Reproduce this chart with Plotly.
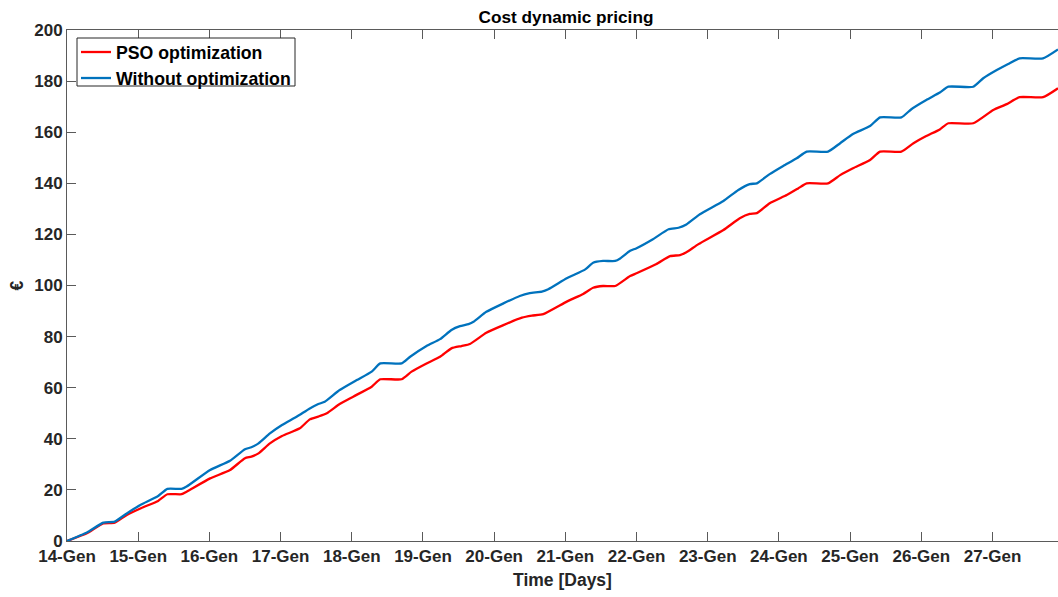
import pandas as pd
import plotly.graph_objects as go

START = pd.Timestamp("2019-01-14")

# time in days since 14-Gen 00:00, cost in euro
days_pso = [0, 0.28, 0.51, 0.67, 0.84, 1.07, 1.28, 1.41, 1.61, 1.68, 2.01, 2.29, 2.50, 2.59, 2.69,
            2.85, 3.02, 3.27, 3.41, 3.53, 3.65, 3.83, 4.02, 4.28, 4.40, 4.70, 4.84, 5.05, 5.24,
            5.40, 5.54, 5.66, 5.89, 6.13, 6.39, 6.53, 6.69, 7.02, 7.25, 7.39, 7.53, 7.70, 7.91,
            8.00, 8.28, 8.47, 8.61, 8.70, 8.87, 9.22, 9.45, 9.59, 9.69, 9.87, 10.11, 10.27, 10.39,
            10.69, 10.86, 11.04, 11.28, 11.42, 11.72, 11.89, 12.07, 12.26, 12.38, 12.73, 13.01,
            13.20, 13.38, 13.71, 13.92]
cost_pso = [0, 3.0, 6.9, 7.2, 10.2, 13.2, 15.7, 18.3, 18.3, 19.3, 24.5, 27.8, 32.4, 33.0, 34.3,
            38.2, 41.1, 44.1, 47.6, 48.7, 50.0, 53.6, 56.5, 60.4, 63.3, 63.3, 66.3, 69.5, 72.1,
            75.4, 76.3, 77.1, 81.5, 84.5, 87.4, 88.2, 88.8, 93.7, 96.7, 99.1, 99.8, 99.8, 103.7,
            104.8, 108.4, 111.5, 111.9, 113.0, 116.2, 121.7, 126.3, 128.0, 128.3, 132.2, 135.4, 138.0, 140.0,
            140.0, 143.2, 145.9, 149.1, 152.4, 152.4, 155.7, 158.5, 161.1, 163.5, 163.5, 168.7,
            171.0, 173.7, 173.7, 177.2]

days_base = [0, 0.28, 0.51, 0.67, 0.84, 1.03, 1.28, 1.41, 1.61, 1.68, 2.01, 2.29, 2.50, 2.59, 2.69,
             2.85, 3.02, 3.23, 3.41, 3.53, 3.62, 3.83, 4.07, 4.28, 4.40, 4.70, 4.82, 5.05, 5.24,
             5.40, 5.52, 5.64, 5.71, 5.89, 6.13, 6.36, 6.50, 6.67, 6.76, 7.02, 7.28, 7.39, 7.53,
             7.70, 7.77, 7.91, 8.00, 8.23, 8.45, 8.59, 8.70, 8.89, 9.22, 9.43, 9.59, 9.69, 9.87,
             10.06, 10.25, 10.39, 10.69, 10.86, 11.04, 11.28, 11.42, 11.72, 11.86, 12.07, 12.26,
             12.38, 12.73, 12.87, 13.06, 13.22, 13.38, 13.71, 13.92]
cost_base = [0, 3.3, 7.2, 7.6, 10.8, 14.1, 17.6, 20.4, 20.4, 21.3, 27.8, 31.4, 35.9, 36.7, 38.2,
             42.1, 45.4, 48.7, 51.9, 53.6, 54.5, 59.1, 63.0, 66.3, 69.5, 69.5, 72.1, 76.3, 79.0,
             82.6, 84.1, 84.9, 85.8, 89.7, 93.0, 95.9, 97.0, 97.6, 98.5, 102.8, 106.3, 108.9, 109.6,
             109.6, 110.6, 113.6, 114.6, 118.1, 122.0, 122.6, 123.9, 127.9, 133.1, 137.4, 139.7, 140.0, 143.6,
             146.8, 149.8, 152.4, 152.4, 155.7, 159.3, 162.4, 165.8, 165.8, 169.0, 172.6, 175.5,
             177.8, 177.8, 181.1, 184.3, 186.7, 188.9, 188.9, 192.4]

day_labels = ["14-Gen", "15-Gen", "16-Gen", "17-Gen", "18-Gen", "19-Gen", "20-Gen",
              "21-Gen", "22-Gen", "23-Gen", "24-Gen", "25-Gen", "26-Gen", "27-Gen"]
y_ticks = [0, 20, 40, 60, 80, 100, 120, 140, 160, 180, 200]

W, H = 1058, 597
ML, MR, MT, MB = 67, 0, 30, 56
AX = "#262626"
AXLINE = "#5a5a5a"
FONT = "Liberation Sans, Arial, sans-serif"


def to_time(days):
    return START + pd.to_timedelta(days, unit="D")


# pixel -> paper coords (for the legend box)
def px(x):
    return (x - ML) / (W - ML - MR)


def py(y):
    return (H - MB - y) / (H - MT - MB)


fig = go.Figure()
fig.add_trace(go.Scatter(
    x=to_time(days_pso), y=cost_pso, name="PSO optimization", mode="lines",
    line=dict(color="#FF0000", width=2.3, shape="spline", smoothing=0.5)
))
fig.add_trace(go.Scatter(
    x=to_time(days_base), y=cost_base, name="Without optimization", mode="lines",
    line=dict(color="#0072BD", width=2.3, shape="spline", smoothing=0.5)
))

tick_dates = [START + pd.Timedelta(days=i) for i in range(len(day_labels))]

# legend frame (MATLAB style box)
fig.add_shape(type="rect", xref="paper", yref="paper",
              x0=px(77), x1=px(295), y0=py(86), y1=py(38),
              line=dict(color=AX, width=1), fillcolor="white", layer="above")

fig.update_layout(
    width=W, height=H,
    paper_bgcolor="white", plot_bgcolor="white",
    font=dict(family=FONT, size=17, color=AX, weight="bold"),
    margin=dict(l=ML, r=MR, t=MT, b=MB),
    title=dict(text="Cost dynamic pricing", x=566 / W, xanchor="center",
               y=1 - 17 / H, yanchor="middle", yref="container",
               font=dict(size=17.2, color="black", weight="bold")),
    showlegend=True,
    legend=dict(x=px(76), y=py(34), xanchor="left", yanchor="top",
                bgcolor="rgba(0,0,0,0)", borderwidth=0,
                font=dict(size=17.7, color="black", weight="bold"),
                tracegroupgap=0, itemwidth=30),
    xaxis=dict(
        range=[START, to_time(13.92)],
        tickvals=tick_dates, ticktext=day_labels,
        ticks="inside", ticklen=9, tickcolor=AXLINE,
        showline=True, linecolor=AXLINE, linewidth=1, mirror="ticks",
        showgrid=False, zeroline=False,
        title=dict(text="Time [Days]", standoff=8, font=dict(size=17.5)),
    ),
    yaxis=dict(
        range=[0, 200], tickvals=y_ticks,
        ticks="inside", ticklen=9, tickcolor=AXLINE,
        showline=True, linecolor=AXLINE, linewidth=1,
        showgrid=False, zeroline=False,
        title=dict(text="€", standoff=6, font=dict(size=17.5)),
    ),
)

fig.write_html("out.html", config={"displayModeBar": False},
               post_script="document.body.style.margin='0';document.body.style.overflow='hidden';")
